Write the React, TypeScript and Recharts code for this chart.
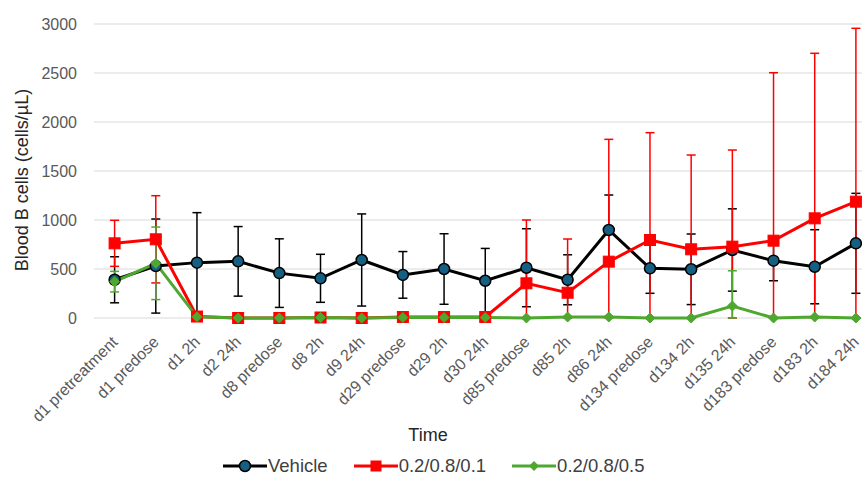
import React from "react";
import { LineChart, Line, XAxis, YAxis, CartesianGrid, ErrorBar, Legend } from "recharts";

const FONT = "'Liberation Sans', Arial, sans-serif";

const categories = [
  "d1 pretreatment", "d1 predose", "d1 2h", "d2 24h", "d8 predose", "d8 2h", "d9 24h",
  "d29 predose", "d29 2h", "d30 24h", "d85 predose", "d85 2h", "d86 24h", "d134 predose",
  "d134 2h", "d135 24h", "d183 predose", "d183 2h", "d184 24h",
];

const seriesKeys = ["vehicle", "low", "high"];
const seriesNames = ["Vehicle", "0.2/0.8/0.1", "0.2/0.8/0.5"];

const vehicle = [390, 530, 565, 578, 458, 405, 592, 440, 500, 380, 513, 390, 898, 507, 497, 694, 585, 523, 762];
const vehicleErr = [235, 480, 510, 355, 350, 245, 470, 238, 360, 330, 398, 255, 357, 255, 360, 420, 205, 378, 510];

const low = [762, 803, 15, 0, 0, 5, 0, 10, 10, 10, 354, 258, 575, 796, 701, 728, 789, 1017, 1187];
const lowErr = [235, 445, 10, 5, 5, 5, 5, 5, 5, 5, 646, 548, 1248, 1095, 962, 986, 1714, 1684, 1769];

const high = [371, 558, 12, 0, 0, 5, 0, 5, 5, 5, 0, 10, 10, 0, 0, 122, 0, 10, 0];
const highErr = [105, 370, 10, 0, 0, 0, 0, 0, 0, 0, 0, 0, 0, 0, 0, 360, 0, 0, 0];

const yTicks = [0, 500, 1000, 1500, 2000, 2500, 3000];

const clipErr = (v: number, e: number) => [Math.min(e, v), e];

const data = categories.map((c, i) => ({
  cat: c,
  vehicle: vehicle[i],
  vehicleErr: clipErr(vehicle[i], vehicleErr[i]),
  low: low[i],
  lowErr: clipErr(low[i], lowErr[i]),
  high: high[i],
  highErr: clipErr(high[i], highErr[i]),
}));

const BLUE = "#156082";
const RED = "#FF0000";
const GREEN = "#4EA72E";

const CircleDot = (p: any) => {
  if (p.cx == null || p.cy == null) return <g key={p.key} />;
  return <circle key={p.key} cx={p.cx} cy={p.cy} r={5.5} fill={BLUE} stroke="#000" strokeWidth={1.5} />;
};
const SquareDot = (p: any) => {
  if (p.cx == null || p.cy == null) return <g key={p.key} />;
  return <rect key={p.key} x={p.cx - 5.5} y={p.cy - 5.5} width={11} height={11} fill={RED} stroke={RED} strokeWidth={1} />;
};
const DiamondDot = (p: any) => {
  if (p.cx == null || p.cy == null) return <g key={p.key} />;
  const { cx, cy } = p;
  return (
    <polygon
      key={p.key}
      points={`${cx},${cy - 5} ${cx + 5},${cy} ${cx},${cy + 5} ${cx - 5},${cy}`}
      fill={GREEN}
      stroke={GREEN}
      strokeWidth={1}
    />
  );
};

const XTick = (props: any) => {
  const { x, y, payload } = props;
  const ax = x + 4;
  const ay = y + 17;
  return (
    <text
      x={ax}
      y={ay}
      transform={`rotate(-45, ${ax}, ${ay})`}
      textAnchor="end"
      fontSize={16}
      fill="#595959"
      fontFamily={FONT}
    >
      {payload.value}
    </text>
  );
};

const legendMarker = (key: string) => {
  if (key === "vehicle") return <circle cx={22} cy={12} r={5.5} fill={BLUE} stroke="#000" strokeWidth={1.5} />;
  if (key === "low") return <rect x={16.5} y={6.5} width={11} height={11} fill={RED} />;
  return <polygon points="22,7 27,12 22,17 17,12" fill={GREEN} />;
};

const renderLegend = (props: any) => {
  const items = [...(props.payload || [])].sort(
    (a: any, b: any) => seriesKeys.indexOf(a.dataKey) - seriesKeys.indexOf(b.dataKey)
  );
  return (
    <div
      style={{
        display: "flex",
        alignItems: "center",
        height: 24,
        paddingLeft: 223,
        fontFamily: FONT,
        fontSize: 18.5,
        color: "#404040",
        boxSizing: "border-box",
      }}
    >
      {items.map((entry: any, i: number) => (
        <div key={i} style={{ display: "flex", alignItems: "center", marginRight: 26 }}>
          <svg width={44} height={24} style={{ display: "block" }}>
            <line x1={0} x2={44} y1={12} y2={12} stroke={entry.color} strokeWidth={3} />
            {legendMarker(entry.dataKey)}
          </svg>
          <span style={{ marginLeft: 1, lineHeight: "24px" }}>{entry.value}</span>
        </div>
      ))}
    </div>
  );
};

export default function App() {
  return (
    <div style={{ position: "absolute", left: 0, top: 0, width: 862, height: 478, overflow: "hidden", background: "#fff" }}>
      <LineChart
        width={880}
        height={478}
        data={data}
        margin={{ top: 24, right: 3.5, left: 0, bottom: 0 }}
      >
        <CartesianGrid vertical={false} stroke="#d9d9d9" strokeWidth={1} />
        <XAxis
          dataKey="cat"
          interval={0}
          axisLine={false}
          tickLine={false}
          height={136}
          padding={{ left: 20.6, right: 20.6 }}
          tick={<XTick />}
          label={{
            content: (p: any) => (
              <text
                x={428}
                y={(p.viewBox?.y ?? 318) + 117}
                textAnchor="middle"
                dominantBaseline="central"
                fontSize={18}
                fill="#262626"
                fontFamily={FONT}
              >
                Time
              </text>
            ),
          }}
        />
        <YAxis
          domain={[0, 3000]}
          ticks={yTicks}
          width={94}
          axisLine={false}
          tickLine={false}
          tickMargin={11}
          tick={{ fontSize: 16, fill: "#595959", fontFamily: FONT }}
          label={{
            content: () => (
              <text
                x={22}
                y={180}
                transform="rotate(-90, 22, 180)"
                textAnchor="middle"
                dominantBaseline="central"
                fontSize={18}
                fill="#262626"
                fontFamily={FONT}
              >
                Blood B cells (cells/µL)
              </text>
            ),
          }}
        />
        <Legend
          verticalAlign="bottom"
          layout="horizontal"
          content={renderLegend}
          wrapperStyle={{ left: 0, width: 880, bottom: 0 }}
        />
        <Line
          dataKey="vehicle"
          name={seriesNames[0]}
          stroke="#000"
          strokeWidth={3}
          dot={CircleDot}
          activeDot={false}
          isAnimationActive={false}
        >
          <ErrorBar dataKey="vehicleErr" direction="y" width={4.5} stroke="#000" strokeWidth={1.5} />
        </Line>
        <Line
          dataKey="low"
          name={seriesNames[1]}
          stroke={RED}
          strokeWidth={3}
          dot={SquareDot}
          activeDot={false}
          isAnimationActive={false}
        >
          <ErrorBar dataKey="lowErr" direction="y" width={4.5} stroke={RED} strokeWidth={1.5} />
        </Line>
        <Line
          dataKey="high"
          name={seriesNames[2]}
          stroke={GREEN}
          strokeWidth={3}
          dot={DiamondDot}
          activeDot={false}
          isAnimationActive={false}
        >
          <ErrorBar dataKey="highErr" direction="y" width={4.5} stroke={GREEN} strokeWidth={1.5} />
        </Line>
      </LineChart>
    </div>
  );
}
